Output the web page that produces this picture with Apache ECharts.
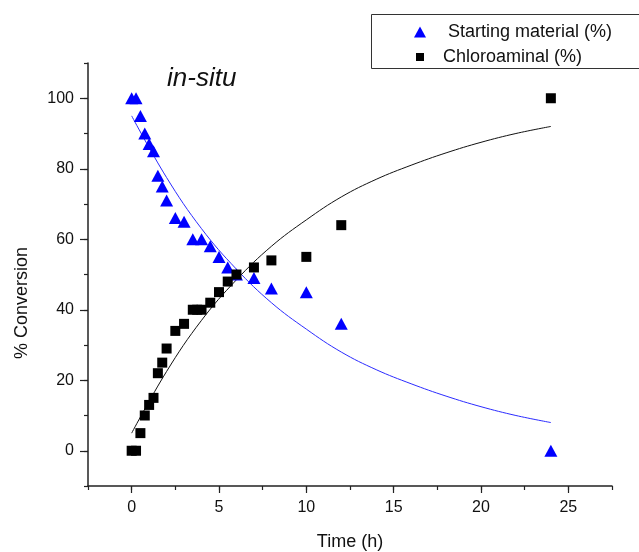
<!DOCTYPE html>
<html>
<head>
<meta charset="utf-8">
<script src="https://cdn.jsdelivr.net/npm/echarts@6/dist/echarts.min.js"></script>
<style>html,body{margin:0;padding:0;background:#fff}#c{width:639px;height:552px}</style>
</head>
<body>
<div id="c"></div>
<script>
// Starting material (%) – time (h), value
const smTime = [0, 0.25, 0.5, 0.75, 1, 1.25, 1.5, 1.75, 2, 2.5, 3, 3.5, 4, 4.5, 5, 5.5, 6, 7, 8, 10, 12, 24];
const smValue = [100, 100, 95, 90, 87, 85, 78, 75, 71, 66, 65, 60, 60, 58, 55, 52, 50, 49, 46, 45, 36, 0];
// Chloroaminal (%)
const chTime = [0, 0.25, 0.5, 0.75, 1, 1.25, 1.5, 1.75, 2, 2.5, 3, 3.5, 3.75, 4, 4.5, 5, 5.5, 6, 7, 8, 10, 12, 24];
const chValue = [0, 0, 5, 10, 13, 15, 22, 25, 29, 34, 36, 40, 40, 40, 42, 45, 48, 50, 52, 54, 55, 64, 100];
// Fitted curves
const fitTime = [0, 2, 4, 6, 8, 10, 12, 14, 16, 18, 20, 22, 24];
const smFit = [95, 77.5, 63, 51.5, 42, 34.5, 28, 23, 19, 15.5, 12.5, 10, 8];
const chFit = [5, 22.5, 37, 48.5, 58, 65.5, 72, 77, 81, 84.5, 87.5, 90, 92];
const xLabels = [0, 5, 10, 15, 20, 25];
const yLabels = [0, 20, 40, 60, 80, 100];

const zip = (a, b) => a.map((v, i) => [v, b[i]]);
const font = 'Liberation Sans, Arial, sans-serif';
const axisCol = '#222';
const lblStyle = {fontFamily: font, fontSize: 16, color: '#111'};

const chart = echarts.init(document.getElementById('c'), null, {renderer: 'canvas'});
chart.setOption({
  animation: false,
  backgroundColor: '#fff',
  grid: {left: 88, right: 27, top: 63, bottom: 66, containLabel: false, outerBoundsMode: 'none'},
  xAxis: [{
    type: 'value', min: -2.5, max: 27.5, interval: 2.5, position: 'bottom',
    name: 'Time (h)', nameLocation: 'middle', nameGap: 47,
    nameTextStyle: {fontFamily: font, fontSize: 18, color: '#111'},
    axisLine: {show: true, onZero: false, lineStyle: {color: axisCol, width: 1.5}},
    axisTick: {show: true, inside: false, length: 4, lineStyle: {color: axisCol, width: 1.2}},
    axisLabel: {show: false},
    splitLine: {show: false}
  }, {
    type: 'value', min: -2.5, max: 27.5, position: 'bottom',
    axisLine: {show: false, onZero: false},
    axisTick: {show: true, inside: false, length: 7, customValues: xLabels, lineStyle: {color: axisCol, width: 1.2}},
    axisLabel: Object.assign({margin: 14, customValues: xLabels}, lblStyle),
    splitLine: {show: false}
  }],
  yAxis: [{
    type: 'value', min: -10, max: 110, interval: 10, position: 'left',
    axisLine: {show: true, onZero: false, lineStyle: {color: axisCol, width: 1.5}},
    axisTick: {show: true, inside: false, length: 4, lineStyle: {color: axisCol, width: 1.2}},
    axisLabel: {show: false},
    splitLine: {show: false}
  }, {
    type: 'value', min: -10, max: 110, position: 'left',
    axisLine: {show: false, onZero: false},
    axisTick: {show: true, inside: false, length: 8, customValues: yLabels, lineStyle: {color: axisCol, width: 1.2}},
    axisLabel: Object.assign({margin: 14, customValues: yLabels}, lblStyle),
    splitLine: {show: false}
  }],
  legend: [{
    orient: 'vertical', left: 414, top: 23, padding: 0,
    itemWidth: 12, itemHeight: 11,
    textStyle: {fontFamily: font, fontSize: 18, color: '#111', padding: [0, 0, 0, 17]},
    data: [{name: 'Starting material (%)', icon: 'triangle', itemStyle: {color: '#0000ff'}}]
  }, {
    orient: 'vertical', left: 416, top: 48, padding: 0,
    itemWidth: 8, itemHeight: 8,
    textStyle: {fontFamily: font, fontSize: 18, color: '#111', padding: [0, 0, 0, 14]},
    data: [{name: 'Chloroaminal (%)', icon: 'rect', itemStyle: {color: '#000'}}]
  }],
  graphic: [{
    type: 'rect', left: 371, top: 14, z: -1,
    shape: {width: 300, height: 54},
    style: {fill: '#fff', stroke: '#333', lineWidth: 1}
  }, {
    type: 'text', left: 167, top: 66,
    style: {text: 'in-situ', fontFamily: font, fontSize: 26, fontStyle: 'italic', fill: '#111'}
  }, {
    type: 'text', x: 22, y: 303, rotation: Math.PI / 2,
    style: {text: '% Conversion', fontFamily: font, fontSize: 18, fill: '#111', align: 'center', verticalAlign: 'middle'}
  }],
  series: [
    {
      name: 'smFit', type: 'line', data: zip(fitTime, smFit), smooth: 0.4, showSymbol: false,
      lineStyle: {color: '#2b2bff', width: 1}, z: 1, silent: true
    },
    {
      name: 'chFit', type: 'line', data: zip(fitTime, chFit), smooth: 0.4, showSymbol: false,
      lineStyle: {color: '#111', width: 1}, z: 1, silent: true
    },
    {
      name: 'Starting material (%)', type: 'scatter', data: zip(smTime, smValue),
      symbol: 'triangle', symbolSize: [13, 12], itemStyle: {color: '#0000ff', opacity: 1}, z: 3
    },
    {
      name: 'Chloroaminal (%)', type: 'scatter', data: zip(chTime, chValue),
      symbol: 'rect', symbolSize: 10, itemStyle: {color: '#000', opacity: 1}, z: 4
    }
  ]
});
</script>
</body>
</html>
